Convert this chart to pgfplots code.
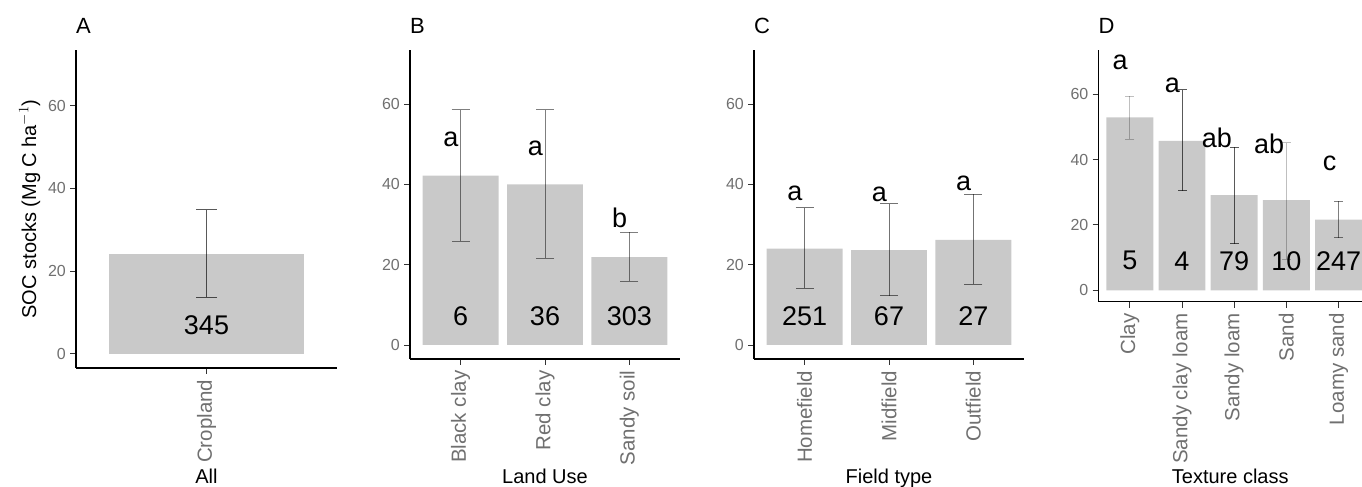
\documentclass[border=0pt]{standalone}
\usepackage{fontspec}
\setmainfont{Liberation Sans}
\usepackage{pgfplots}
\pgfplotsset{compat=1.18}
\usepackage{pgfplotstable}

\definecolor{barfill}{RGB}{201,201,201}
\definecolor{ticktext}{RGB}{112,112,112}
\newcommand{\fs}[1]{\fontsize{#1}{#1}\selectfont}

\pgfplotstableread{
x m hi lo n ny
1 24.1 34.8 13.7 345 6.9
}\tA
\pgfplotstableread{
x m hi lo n ny let ly
1 42.2 58.6 25.9 6 7.2 a 51.3
2 40.0 58.6 21.6 36 7.2 a 49.1
3 21.9 28.1 15.9 303 7.2 b 31.7
}\tB
\pgfplotstableread{
x m hi lo n ny let ly
1 24.0 34.2 14.1 251 7.2 a 37.8
2 23.6 35.2 12.3 67 7.2 a 37.5
3 26.2 37.6 15.1 27 7.2 a 40.3
}\tC
\pgfplotstableread{
x m hi lo n ny let ly
1 52.9 59.4 46.3 5 9.0 a 69.7
2 45.7 61.3 30.4 4 9.0 a 62.8
3 29.1 43.8 14.3 79 9.0 ab 46.5
4 27.6 45.2 9.5 10 9.0 ab 44.9
5 21.6 27.2 16.1 247 9.0 c 38.8
}\tD

\pgfplotsset{
  panel/.style={
    scale only axis,
    axis lines*=left,
    axis line style={line width=1.2pt, black},
    ymin=-3.5, ymax=73.5,
    ytick={0,20,40,60},
    tick align=outside,
    major tick length=6pt,
    tick style={line width=0.8pt, black!80},
    /pgf/number format/assume math mode=true,
    yticklabel style={font=\fs{16}, text=ticktext, inner sep=0pt, anchor=east},
    yticklabel shift=4pt,
    xticklabel style={font=\fs{20.5}, text=ticktext, inner sep=0pt, rotate=90, anchor=east},
    xticklabel shift=5.5pt,
    clip=false,
    title style={at={(axis description cs:0,1)}, anchor=base west, inner sep=0pt, yshift=10.5pt},
    xlabel style={at={(axis description cs:0.5,0)}, font=\fs{20}, inner sep=0pt, anchor=base},
    ylabel style={font=\fs{20}},
  },
  bars/.style={ybar, bar width=0.9, fill=barfill, draw=none, forget plot},
  errs/.style 2 args={draw=none, mark=none, forget plot,
    error bars/.cd, y dir=both, y explicit,
    error bar style={draw=black, line width=0.8pt, opacity=#1},
    error mark options={rotate=90, draw=black, line width=0.8pt, opacity=#1, mark size=#2}},
  labs/.style={draw=none, mark=none, forget plot, nodes near coords, point meta=explicit symbolic,
    every node near coord/.append style={anchor=center, font=\fs{27}, text=black, inner sep=0pt}},
  lets/.style={draw=none, mark=none, forget plot, nodes near coords, point meta=explicit symbolic,
    every node near coord/.append style={anchor=east, font=\fs{27}, text=black, inner sep=0pt, xshift=-2pt}},
}

\begin{document}
\begin{tikzpicture}
\path[use as bounding box] (0,0) rectangle (1362pt,487pt);

% Panel A
\begin{axis}[panel, at={(76pt,119pt)}, anchor=south west,
  width=261pt, height=318pt, xmin=0.4, xmax=1.6,
  xtick={1}, xticklabels={Cropland},
  title={\fs{22}A}, xlabel={All}, xlabel style={yshift=-115.5pt},
  ylabel={SOC stocks (Mg C ha$^{-1}$)},
  ylabel style={at={(axis description cs:0,0.5)}, anchor=base, yshift=40pt}]
\addplot[bars] table[x=x, y=m] {\tA};
\addplot[errs={0.65}{10.5pt}] table[x=x, y=m, y error plus expr=\thisrow{hi}-\thisrow{m}, y error minus expr=\thisrow{m}-\thisrow{lo}] {\tA};
\addplot[labs] table[x=x, y=ny, meta=n] {\tA};
\end{axis}

% Panel B
\begin{axis}[panel, at={(410pt,128pt)}, anchor=south west,
  width=270pt, height=309pt, xmin=0.4, xmax=3.6,
  xtick={1,2,3}, xticklabels={Black clay, Red clay, Sandy soil},
  title={\fs{22}B}, xlabel={Land Use}, xlabel style={yshift=-124.5pt}]
\addplot[bars] table[x=x, y=m] {\tB};
\addplot[errs={0.5}{9pt}] table[x=x, y=m, y error plus expr=\thisrow{hi}-\thisrow{m}, y error minus expr=\thisrow{m}-\thisrow{lo}] {\tB};
\addplot[labs] table[x=x, y=ny, meta=n] {\tB};
\addplot[lets] table[x=x, y=ly, meta=let] {\tB};
\end{axis}

% Panel C
\begin{axis}[panel, at={(754pt,128pt)}, anchor=south west,
  width=270pt, height=309pt, xmin=0.4, xmax=3.6,
  xtick={1,2,3}, xticklabels={Homefield, Midfield, Outfield},
  title={\fs{22}C}, xlabel={Field type}, xlabel style={yshift=-124.5pt}]
\addplot[bars] table[x=x, y=m] {\tC};
\addplot[errs={0.55}{9pt}] table[x=x, y=m, y error plus expr=\thisrow{hi}-\thisrow{m}, y error minus expr=\thisrow{m}-\thisrow{lo}] {\tC};
\addplot[labs] table[x=x, y=ny, meta=n] {\tC};
\addplot[lets] table[x=x, y=ly, meta=let] {\tC};
\end{axis}

% Panel D
\begin{axis}[panel, at={(1098.5pt,185.3pt)}, anchor=south west,
  width=263.5pt, height=251.7pt, xmin=0.4, xmax=5.45,
  xtick={1,2,3,4,5}, xticklabels={Clay, Sandy clay loam, Sandy loam, Sand, Loamy sand},
  title={\fs{22}D}, xlabel={Texture class}, xlabel style={yshift=-181.8pt}]
\addplot[bars] table[x=x, y=m] {\tD};
\addplot[x filter/.expression={(x==1||x==4) ? x : nan}, errs={0.25}{4.5pt}] table[x=x, y=m, y error plus expr=\thisrow{hi}-\thisrow{m}, y error minus expr=\thisrow{m}-\thisrow{lo}] {\tD};
\addplot[x filter/.expression={(x==2||x==3) ? x : nan}, errs={0.65}{4.5pt}] table[x=x, y=m, y error plus expr=\thisrow{hi}-\thisrow{m}, y error minus expr=\thisrow{m}-\thisrow{lo}] {\tD};
\addplot[x filter/.expression={(x==5) ? x : nan}, errs={0.5}{4.5pt}] table[x=x, y=m, y error plus expr=\thisrow{hi}-\thisrow{m}, y error minus expr=\thisrow{m}-\thisrow{lo}] {\tD};
\addplot[labs] table[x=x, y=ny, meta=n] {\tD};
\addplot[lets] table[x=x, y=ly, meta=let] {\tD};
\end{axis}
\end{tikzpicture}
\end{document}
